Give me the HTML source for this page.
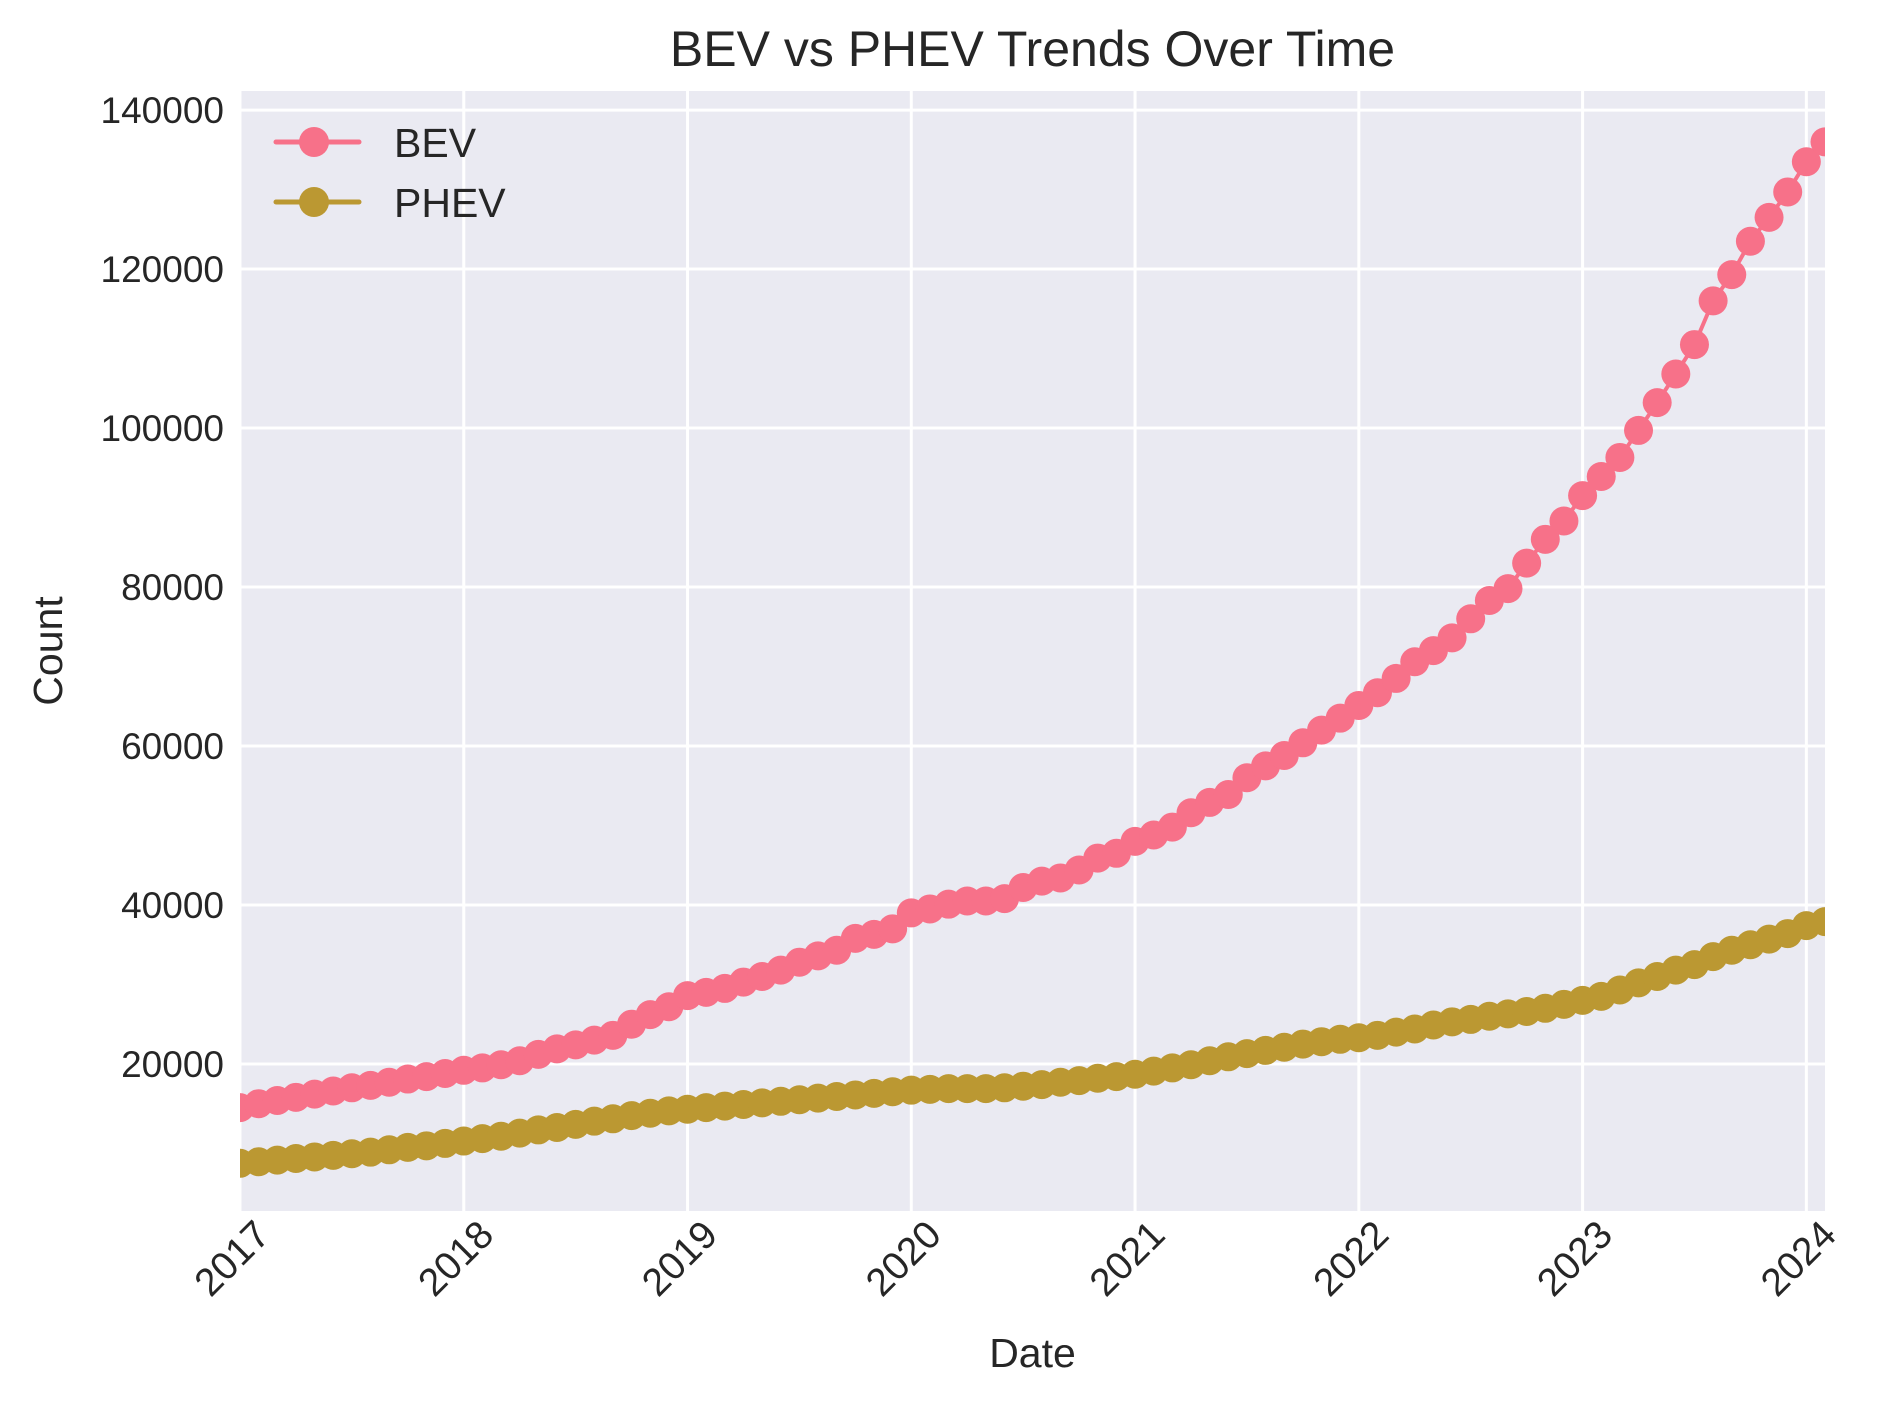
<!DOCTYPE html>
<html><head><meta charset="utf-8"><style>body{margin:0;background:#fff}svg{display:block}text{font-family:"Liberation Sans",sans-serif;fill:#262626}</style></head>
<body>
<svg id="chart" width="1882" height="1403" xmlns="http://www.w3.org/2000/svg"></svg>
<script>
const startYear = 2017;
const bevValues = [14500,15000,15400,15800,16200,16600,17000,17300,17700,18100,18400,18800,
19200,19500,19900,20400,21200,21900,22400,23000,23600,25000,26200,27200,
28600,29000,29500,30300,31000,31800,32800,33600,34300,35800,36300,37000,
39000,39500,40100,40500,40500,40800,42200,43000,43400,44400,45900,46500,
48000,48800,49800,51600,52900,53900,56000,57500,58800,60400,62000,63500,
65100,66700,68500,70600,72000,73600,76000,78300,79800,83000,86000,88300,
91500,93900,96300,99700,103200,106800,110500,116000,119300,123500,126500,129700,
133500,136000];
const phevValues = [7500,7700,7900,8100,8300,8500,8700,8900,9200,9500,9700,10000,
10300,10600,10900,11300,11700,12000,12400,12800,13100,13500,13800,14100,
14300,14500,14700,14900,15100,15300,15500,15700,15900,16100,16300,16500,
16700,16800,16900,16900,16900,17000,17200,17400,17700,17900,18200,18400,
18700,19100,19500,19900,20400,20900,21300,21700,22100,22500,22800,23100,
23300,23600,24000,24400,24900,25300,25600,26000,26300,26600,27000,27500,
28000,28500,29300,30200,31000,31800,32500,33500,34300,35000,35700,36400,
37400,37900];
const yTicks = [20000,40000,60000,80000,100000,120000,140000];
const xTicks = [2017,2018,2019,2020,2021,2022,2023,2024];

const NS="http://www.w3.org/2000/svg";
const svg=document.getElementById('chart');
const L=240,R=1825,T=91,B=1211;
const yMin=1500,yMax=142400;
const nPts=bevValues.length;
const monthsSpan=nPts-1;
function x(yearFrac){return L+(yearFrac-startYear)/(monthsSpan/12)*(R-L);}
function xi(i){return x(startYear+i/12);}
function y(v){return B-(v-yMin)/(yMax-yMin)*(B-T);}
let target=svg;
function mk(tag,attrs){const e=document.createElementNS(NS,tag);for(const k in attrs)e.setAttribute(k,attrs[k]);target.appendChild(e);return e;}

let e=mk('rect',{x:L,y:T,width:R-L,height:B-T,fill:'#eaeaf2'});


yTicks.forEach(v=>{
  let g=mk('line',{x1:L,x2:R,y1:y(v),y2:y(v),stroke:'#fff','stroke-width':3});
  
  
  let t=mk('text',{x:224,y:y(v)+13,'text-anchor':'end','font-size':37});
  t.textContent=v;
  
  
});
xTicks.forEach(yr=>{
  const px=x(yr);
  let g=mk('line',{x1:px,x2:px,y1:T,y2:B,stroke:'#fff','stroke-width':3});
  
  
  let t=mk('text',{x:0,y:0,'text-anchor':'end','font-size':39,transform:`translate(${px+32},${B+26}) rotate(-45)`});
  t.textContent=yr;
  
  
});
const defs=document.createElementNS(NS,'defs');
defs.innerHTML=`<clipPath id="cp"><rect x="${L}" y="${T}" width="${R-L}" height="${B-T}"/></clipPath>`;
svg.appendChild(defs);
const grp=document.createElementNS(NS,'g');grp.setAttribute('clip-path','url(#cp)');
svg.appendChild(grp);
function series(vals,color,name){
  const pts=vals.map((v,i)=>xi(i).toFixed(1)+','+y(v).toFixed(1)).join(' ');
  let p=mk('polyline',{points:pts,fill:'none',stroke:color,'stroke-width':4,'stroke-linejoin':'round'});
  
  
  vals.forEach((v,i)=>{
    let c=mk('circle',{cx:xi(i),cy:y(v),r:14.5,fill:color});
    
    
  });
}
target=grp;
series(bevValues,'#f77189','bev');
series(phevValues,'#bb9832','phev');
target=svg;

let t=mk('text',{x:(L+R)/2,y:66,'text-anchor':'middle','font-size':50});
t.textContent='BEV vs PHEV Trends Over Time';


t=mk('text',{x:(L+R)/2,y:1367,'text-anchor':'middle','font-size':41});
t.textContent='Date';


t=mk('text',{x:0,y:0,'text-anchor':'middle','font-size':41,transform:`translate(62,${(T+B)/2}) rotate(-90)`});
t.textContent='Count';



[['BEV','#f77189',142],['PHEV','#bb9832',202]].forEach(([lab,col,ly])=>{
  let l=mk('line',{x1:276,x2:359,y1:ly,y2:ly,stroke:col,'stroke-width':5,'stroke-linecap':'round'});
  
  
  let c=mk('circle',{cx:314,cy:ly,r:15,fill:col});
  
  
  let tx=mk('text',{x:394,y:ly+15,'font-size':41});
  tx.textContent=lab;
  
  
});
</script>
</body></html>
